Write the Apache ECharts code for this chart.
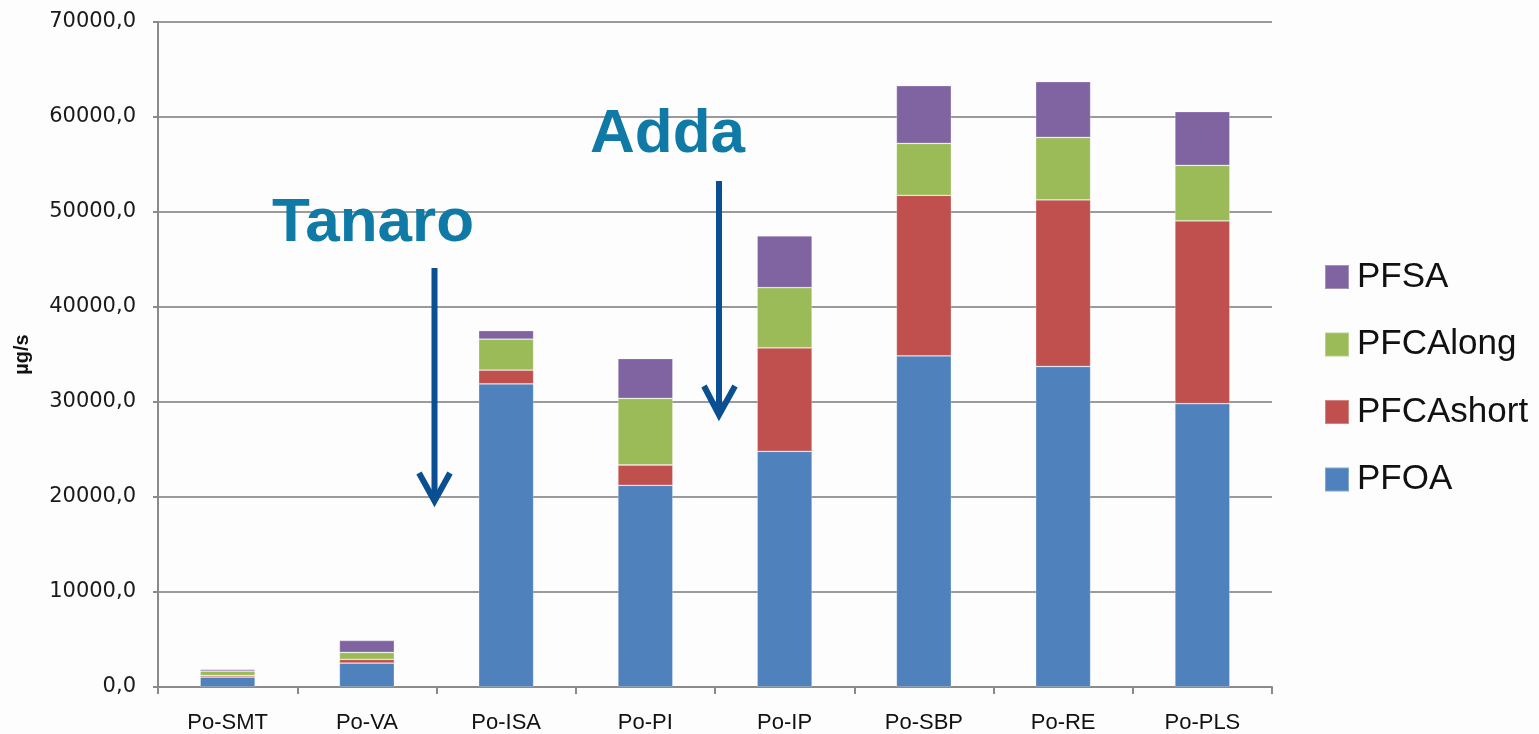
<!DOCTYPE html>
<html>
<head>
<meta charset="utf-8">
<script src="https://cdn.jsdelivr.net/npm/echarts@6/dist/echarts.min.js"></script>
<style>
html,body{margin:0;padding:0;background:#fdfdfd;}
#chart{width:1539px;height:734px;}
</style>
</head>
<body>
<div id="chart"></div>
<script>
const categories = ['Po-SMT','Po-VA','Po-ISA','Po-PI','Po-IP','Po-SBP','Po-RE','Po-PLS'];
const PFOA      = [1050, 2520, 31900, 21230, 24810, 34860, 33740, 29820];
const PFCAshort = [140, 390, 1450, 2140, 10890, 16900, 17530, 19250];
const PFCAlong  = [490, 730, 3260, 7010, 6340, 5460, 6580, 5840];
const PFSA      = [180, 1260, 910, 4200, 5450, 6080, 5870, 5670];
const legendOrder = ['PFSA','PFCAlong','PFCAshort','PFOA'];
const yTicks = {min: 0, max: 70000, interval: 10000};

const colors = {PFOA:'#4F81BD', PFCAshort:'#C0504D', PFCAlong:'#9BBB59', PFSA:'#8064A2'};
const seriesData = {PFOA, PFCAshort, PFCAlong, PFSA};

const chart = echarts.init(document.getElementById('chart'));
const mkSeries = name => ({
  name, type:'bar', stack:'total', data: seriesData[name], barWidth: 55,
  itemStyle:{color: colors[name], borderColor:'rgba(255,255,255,0.3)', borderWidth:0.8},
  emphasis:{disabled:true}
});
const arrowColor = '#0A4F92';
const annColor = '#0E7AA5';
chart.setOption({
  backgroundColor:'#fdfdfd',
  animation:false,
  grid:{left:158, right:267, top:22, bottom:46, containLabel:false},
  legend:{
    orient:'vertical', left:1319, top:254,
    data: legendOrder, icon:'rect', itemWidth:24, itemHeight:24, itemGap:31.5,
    textStyle:{fontFamily:'Liberation Sans', fontSize:35, color:'#111', lineHeight:36, padding:[0,0,0,3]}
  },
  xAxis:{
    type:'category', data:categories,
    axisLine:{show:true, lineStyle:{color:'#8a8a8a', width:2}},
    axisTick:{show:true, length:7, lineStyle:{color:'#8a8a8a', width:2}},
    axisLabel:{fontFamily:'Liberation Sans', fontSize:22, color:'#111', margin:25}
  },
  yAxis:{
    type:'value', min:yTicks.min, max:yTicks.max, interval:yTicks.interval,
    name:'µg/s', nameLocation:'middle', nameRotate:90, nameGap:126,
    nameTextStyle:{fontFamily:'Liberation Sans', fontWeight:'bold', fontSize:20, color:'#111'},
    axisLine:{show:true, lineStyle:{color:'#8a8a8a', width:2}},
    axisTick:{show:true, length:5, lineStyle:{color:'#8a8a8a', width:2}},
    splitLine:{show:true, lineStyle:{color:'#9a9a9a', width:2}},
    axisLabel:{fontFamily:'DejaVu Sans', fontSize:21, color:'#1a1a1a', margin:22,
      formatter: v => v.toFixed(1).replace('.', ',')}
  },
  series:[mkSeries('PFOA'), mkSeries('PFCAshort'), mkSeries('PFCAlong'), mkSeries('PFSA')],
  graphic:[
    {type:'text', left:272, top:193, z:10, style:{text:'Tanaro', fontFamily:'Liberation Sans', fontWeight:'bold', fontSize:62, fill:annColor}},
    {type:'text', left:590, top:104, z:10, style:{text:'Adda', fontFamily:'Liberation Sans', fontWeight:'bold', fontSize:62, fill:annColor}},
    {type:'line', z:10, shape:{x1:434.5, y1:268, x2:434.5, y2:500}, style:{stroke:arrowColor, lineWidth:6}},
    {type:'polyline', z:10, shape:{points:[[419,473],[434.5,501],[450,473]]}, style:{stroke:arrowColor, lineWidth:6, fill:null}},
    {type:'line', z:10, shape:{x1:719, y1:181, x2:719, y2:414}, style:{stroke:arrowColor, lineWidth:6}},
    {type:'polyline', z:10, shape:{points:[[704,386],[719,415],[735,386]]}, style:{stroke:arrowColor, lineWidth:6, fill:null}}
  ]
});
</script>
</body>
</html>
